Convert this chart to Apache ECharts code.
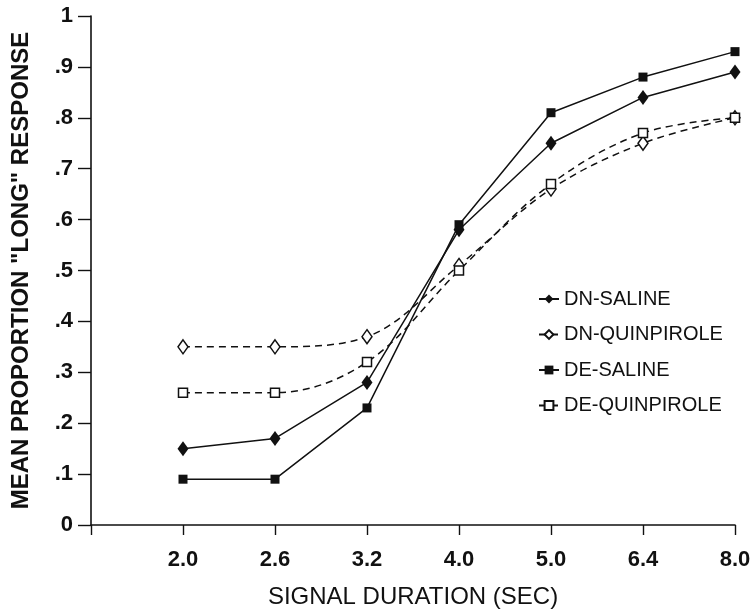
<!DOCTYPE html>
<html>
<head>
<meta charset="utf-8">
<script src="https://cdn.jsdelivr.net/npm/echarts@6/dist/echarts.min.js"></script>
<style>
  html, body { margin: 0; padding: 0; background: #fff; }
  #chart { width: 753px; height: 611px; }
</style>
</head>
<body>
<div id="chart"></div>
<script>
// signal durations (sec); first slot on the axis is left empty
const durations = ['2.0', '2.6', '3.2', '4.0', '5.0', '6.4', '8.0']
const dnSaline = [0.15, 0.17, 0.28, 0.58, 0.75, 0.84, 0.89]
const dnQuinpirole = [0.35, 0.35, 0.37, 0.51, 0.66, 0.75, 0.80]
const deSaline = [0.09, 0.09, 0.23, 0.59, 0.81, 0.88, 0.93]
const deQuinpirole = [0.26, 0.26, 0.32, 0.50, 0.67, 0.77, 0.80]

const FONT = '"Liberation Sans", Arial, sans-serif'
const INK = '#111'

const chart = echarts.init(document.getElementById('chart'))

const tickText = { t: { fontFamily: FONT, fontSize: 22, fontWeight: 'bold', color: INK } }

const makeSeries = (name, values, symbol, size, filled, dashed) => ({
  name,
  type: 'line',
  data: ['-'].concat(values),
  symbol,
  symbolSize: size,
  showAllSymbol: true,
  smooth: dashed ? 0.35 : false,
  lineStyle: { color: INK, width: 1.5, type: dashed ? [7, 5] : 'solid' },
  itemStyle: {
    color: filled ? INK : '#fff',
    borderColor: INK,
    borderWidth: filled ? 0 : 1.5
  },
  emphasis: { disabled: true }
})

chart.setOption({
  animation: false,
  textStyle: { fontFamily: FONT, color: INK },
  grid: { left: 91, right: 18, top: 16, bottom: 86, outerBoundsMode: 'none', containLabel: false },
  legend: {
    orient: 'vertical',
    left: 533,
    top: 284,
    itemGap: 15.5,
    itemWidth: 20,
    itemHeight: 11,
    textStyle: { fontFamily: FONT, fontSize: 20, color: INK, fontWeight: 500 },
    data: ['DN-SALINE', 'DN-QUINPIROLE', 'DE-SALINE', 'DE-QUINPIROLE']
  },
  xAxis: {
    type: 'category',
    boundaryGap: false,
    data: [''].concat(durations),
    name: 'SIGNAL DURATION (SEC)',
    nameLocation: 'middle',
    nameGap: 60,
    nameTextStyle: { fontFamily: FONT, fontSize: 24, color: INK },
    axisLine: { lineStyle: { color: INK, width: 1.6 } },
    axisTick: { show: true, length: 10, lineStyle: { color: INK, width: 1.4 } },
    axisLabel: {
      margin: 24,
      formatter: (v) => (v === '' ? '' : '{t|' + v + '}'),
      rich: tickText
    },
    splitLine: { show: false }
  },
  yAxis: {
    type: 'value',
    min: 0,
    max: 1,
    interval: 0.1,
    name: 'MEAN PROPORTION "LONG" RESPONSE',
    nameLocation: 'middle',
    nameGap: 58,
    nameTextStyle: { fontFamily: FONT, fontSize: 24, fontWeight: 'bold', color: INK },
    axisLine: { show: true, lineStyle: { color: INK, width: 1.6 } },
    axisTick: { show: true, length: 13, lineStyle: { color: INK, width: 1.4 } },
    axisLabel: {
      margin: 18,
      rich: tickText,
      formatter: (v) => {
        let s = '.' + Math.round(v * 10)
        if (v === 0) s = '0'
        if (v === 1) s = '1'
        return '{t|' + s + '}'
      }
    },
    splitLine: { show: false }
  },
  series: [
    makeSeries('DN-SALINE', dnSaline, 'diamond', [11, 15], true, false),
    makeSeries('DN-QUINPIROLE', dnQuinpirole, 'diamond', [10, 14], false, true),
    makeSeries('DE-SALINE', deSaline, 'rect', 9, true, false),
    makeSeries('DE-QUINPIROLE', deQuinpirole, 'rect', 9, false, true)
  ]
})
</script>
</body>
</html>
